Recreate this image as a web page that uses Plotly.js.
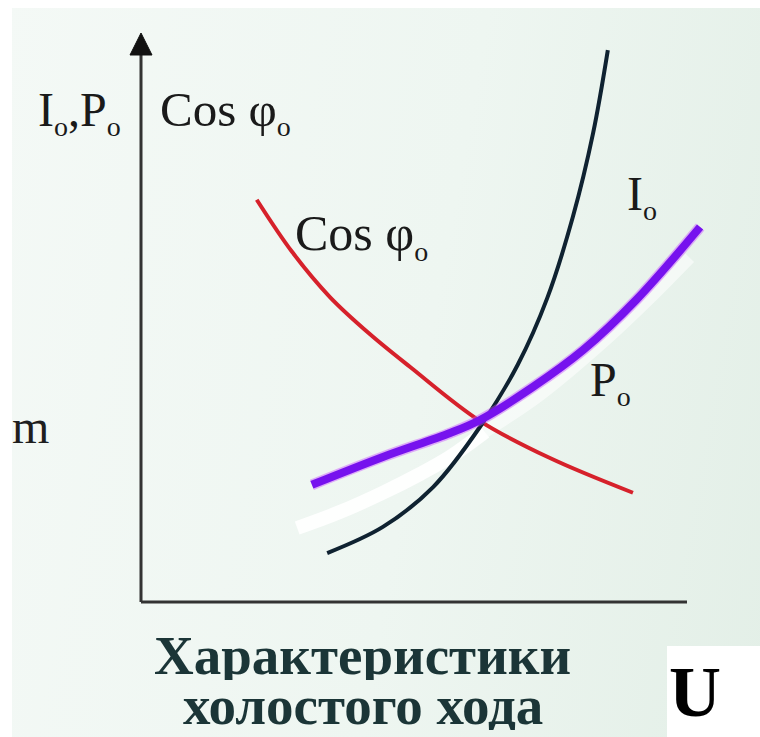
<!DOCTYPE html>
<html>
<head>
<meta charset="utf-8">
<script src="https://cdn.plot.ly/plotly-3.0.1.min.js"></script>
<style>
  html, body { margin: 0; padding: 0; background: #ffffff; }
  #chart { width: 760px; height: 737px;
    background: linear-gradient(100deg, #f4f9f6 0%, #eef6f1 55%, #e3efe7 100%); }
</style>
</head>
<body>
<div id="chart"></div>
<script>
// ---- Data (schematic values: U on x, quantities on y, both 0..10 scale) ----
const cosU   = [2.12, 2.77, 3.46, 4.19, 4.93, 6.21, 7.49, 9.01];
const cosPhi = [7.07, 6.15, 5.36, 4.71, 4.13, 3.18, 2.53, 1.92];

const iU  = [3.41, 4.43, 5.35, 6.21, 6.90, 7.44, 7.91, 8.28, 8.55];
const i0  = [0.86, 1.32, 2.02, 3.08, 4.17, 5.34, 6.77, 8.24, 9.70];

const pU  = [3.13, 4.43, 5.66, 6.21, 7.18, 8.10, 9.07, 10.24];
const p0  = [2.06, 2.55, 2.97, 3.20, 3.78, 4.43, 5.31, 6.59];

const glowLowU = [2.86, 3.64, 4.43, 5.11, 5.66, 6.30];
const glowLowV = [1.30, 1.58, 1.92, 2.25, 2.55, 2.99];
const glowUpU  = [6.30, 7.31, 8.41, 9.32, 10.05];
const glowUpV  = [2.99, 3.64, 4.52, 5.34, 6.05];

const axisMax = 10;

// ---- Layout helpers ----
const W = 760, H = 737;
const ox = 141, oy = 602;          // pixel position of origin
const sx = 54.6, sy = 56.9;        // pixels per unit
const xr = [-ox / sx, (W - ox) / sx];
const yr = [-(H - oy) / sy, oy / sy];
const px = v => v / W;
const py = v => 1 - v / H;

const serif = 'Liberation Serif, Times New Roman, serif';
const SUB = '<sub><span style="font-size:28px">o</span></sub>';

const traces = [
  { x: glowLowU, y: glowLowV, mode: 'lines', line: { color: 'rgba(255,255,255,0.92)', width: 14, shape: 'spline' }, hoverinfo: 'skip' },
  { x: glowUpU, y: glowUpV, mode: 'lines', line: { color: 'rgba(255,255,255,0.55)', width: 12, shape: 'spline' }, hoverinfo: 'skip' },
  { x: cosU, y: cosPhi, mode: 'lines', line: { color: '#d6212b', width: 4, shape: 'spline' }, hoverinfo: 'skip' },
  { x: iU, y: i0, mode: 'lines', line: { color: '#0f2231', width: 4, shape: 'spline' }, hoverinfo: 'skip' },
  { x: pU, y: p0, mode: 'lines', line: { color: 'rgba(200,80,255,0.45)', width: 11, shape: 'spline' }, hoverinfo: 'skip' },
  { x: pU, y: p0, mode: 'lines', line: { color: '#7612ee', width: 8, shape: 'spline' }, hoverinfo: 'skip' }
];

function lab(text, x, baseline, size, opts) {
  opts = opts || {};
  const a = {
    text: text, xref: 'paper', yref: 'paper',
    x: px(x), y: py(baseline - size * 0.32),
    xanchor: opts.xanchor || 'left', yanchor: 'middle',
    showarrow: false,
    font: { family: serif, size: size, color: opts.color || '#1a1a1a', weight: opts.weight || 'normal' }
  };
  if (opts.height) { a.height = opts.height; a.valign = 'middle'; }
  return a;
}

const annotations = [
  lab('I' + SUB + ',P' + SUB, 36, 128, 48),
  lab('Cos φ' + SUB, 158, 128, 49),
  lab('Cos φ' + SUB, 293, 252, 50),
  lab('I' + SUB, 625, 212, 48),
  lab('P' + SUB, 588, 398, 48),
  lab('m', 10, 442, 48, { color: '#1e1e1e' }),
  lab('Характеристики', 362, 673, 55, { xanchor: 'center', weight: 'bold', color: '#1b3537', height: 50 }),
  lab('холостого хода', 363, 723, 55, { xanchor: 'center', weight: 'bold', color: '#1b3537', height: 50 }),
  lab('U', 695, 715, 72, { xanchor: 'center', weight: 'bold', color: '#000' })
];

const shapes = [
  // white frame strips
  { type: 'rect', xref: 'paper', yref: 'paper', x0: 0, x1: 1, y0: py(8), y1: 1, fillcolor: '#ffffff', line: { width: 0 }, layer: 'below' },
  { type: 'rect', xref: 'paper', yref: 'paper', x0: 0, x1: px(12), y0: 0, y1: 1, fillcolor: '#ffffff', line: { width: 0 }, layer: 'below' },
  // white box behind U
  { type: 'rect', xref: 'paper', yref: 'paper', x0: px(667), x1: 1, y0: 0, y1: py(646), fillcolor: '#ffffff', line: { width: 0 }, layer: 'below' },
  // axes
  { type: 'line', xref: 'x', yref: 'y', x0: 0, y0: 0, x1: axisMax, y1: 0, line: { color: '#333', width: 3 } },
  { type: 'line', xref: 'x', yref: 'y', x0: 0, y0: 0, x1: 0, y1: axisMax - 0.3, line: { color: '#333', width: 3 } },
  { type: 'path', xref: 'x', yref: 'y',
    path: `M 0 ${axisMax} L ${-11 / sx} ${axisMax - 22 / sy} L ${11 / sx} ${axisMax - 22 / sy} Z`,
    fillcolor: '#111', line: { color: '#111', width: 1 } }
];

const layout = {
  width: W, height: H,
  margin: { l: 0, r: 0, t: 0, b: 0 },
  paper_bgcolor: 'rgba(0,0,0,0)',
  plot_bgcolor: 'rgba(0,0,0,0)',
  showlegend: false,
  xaxis: { range: xr, showgrid: false, zeroline: false, showticklabels: false, showline: false, ticks: '', fixedrange: true },
  yaxis: { range: yr, showgrid: false, zeroline: false, showticklabels: false, showline: false, ticks: '', fixedrange: true },
  shapes: shapes,
  annotations: annotations
};

Plotly.newPlot('chart', traces, layout, { staticPlot: true, displayModeBar: false });
</script>
</body>
</html>
